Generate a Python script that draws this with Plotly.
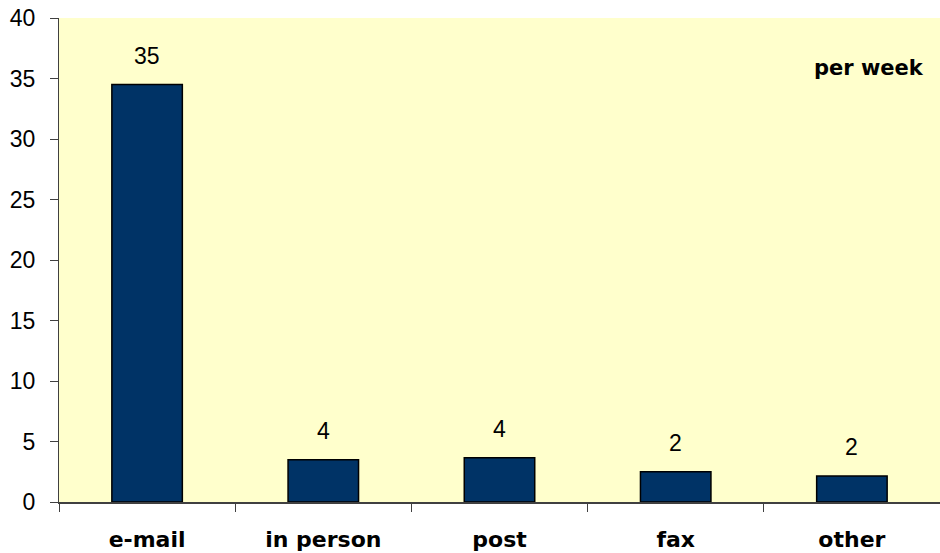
import plotly.graph_objects as go

categories = ["e-mail", "in person", "post", "fax", "other"]
values = [34.5, 3.5, 3.65, 2.5, 2.15]
value_labels = ["35", "4", "4", "2", "2"]
y_ticks = [0, 5, 10, 15, 20, 25, 30, 35, 40]
note_text = "per week"

BOLD_FONT = "DejaVu Sans, Liberation Sans, Arial"
NUM_FONT = "Liberation Sans, Arial"

fig = go.Figure()
fig.add_trace(go.Bar(
    x=categories, y=values,
    marker=dict(color="#003366", line=dict(color="#000000", width=1.5)),
    width=0.4, hoverinfo="skip",
))

for c, v, lab in zip(categories, values, value_labels):
    fig.add_annotation(x=c, y=v, text=lab, showarrow=False, yanchor="bottom",
                       yshift=14, font=dict(family=NUM_FONT, size=23, color="#000000"))

fig.add_annotation(xref="paper", yref="paper", x=0.984, y=0.897, text="<b>" + note_text + "</b>",
                   showarrow=False, xanchor="right", yanchor="middle",
                   font=dict(family=BOLD_FONT, size=21, color="#000000"))

fig.update_layout(
    width=940, height=553,
    margin=dict(l=59, r=0, t=18, b=51),
    paper_bgcolor="#FFFFFF", plot_bgcolor="#FFFFCC",
    showlegend=False,
    font=dict(family=NUM_FONT, size=23, color="#000000"),
)
fig.update_xaxes(
    type="category", range=[-0.5, 4.5],
    showline=True, linecolor="#404040", linewidth=1.5,
    ticks="outside", tickson="boundaries", ticklen=8, tickcolor="#404040", tickwidth=1,
    ticklabelstandoff=17,
    tickvals=categories, ticktext=["<b>" + c + "</b>" for c in categories],
    tickfont=dict(family=BOLD_FONT, size=22, color="#000000"),
    showgrid=False, zeroline=False, fixedrange=True,
)
fig.update_yaxes(
    range=[0, 40], tickvals=y_ticks, ticktext=[str(t) for t in y_ticks],
    showline=True, linecolor="#404040", linewidth=1,
    ticks="outside", ticklen=8, tickcolor="#404040", tickwidth=1,
    ticklabelstandoff=10,
    tickfont=dict(family=NUM_FONT, size=23, color="#000000"),
    showgrid=False, zeroline=False, fixedrange=True,
)

fig.write_html("out.html")
